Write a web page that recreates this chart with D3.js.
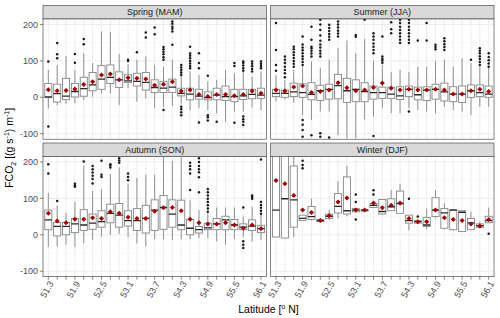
<!DOCTYPE html>
<html>
<head>
<meta charset="utf-8">
<script src="https://cdn.jsdelivr.net/npm/d3@7"></script>
<style>
  body { margin: 0; background: #fff; }
  text { font-family: "Liberation Sans", Arial, sans-serif; }
</style>
</head>
<body>
<svg id="chart" width="500" height="318"></svg>
<script>
const lats = ["51.3","51.5","51.7","51.9","52.1","52.3","52.5","52.7","52.9","53.1","53.3","53.5","53.7",
  "53.9","54.1","54.3","54.5","54.7","54.9","55.1","55.3","55.5","55.7","55.9","56.1"]
const tickLabels = ["51.3","51.9","52.5","53.1","53.7","54.3","54.9","55.5","56.1"]
const yTicks = [-100, 0, 100, 200]
const yMinor = [-50, 50, 150]

// each row: [whisker low, q1, median, q3, whisker high, mean]
const spring = [
  [-31,-1,1,38,75,21],[-22,-13,10,36,89,18],[-18,-6,3,52,114,19],[-16,1,16,38,75,23],[-7,3,24,55,121,35],
  [2,18,34,68,94,43],[11,22,50,87,181,61],[11,38,55,89,179,64],[-21,27,48,70,119,48],[25,41,45,62,91,54],
  [-12,31,44,66,103,52],[-3,20,41,68,112,50],[-30,13,27,48,89,33],[-26,13,25,44,84,36],[-24,13,28,50,103,43],
  [-17,4,11,25,71,17],[-35,-7,9,25,71,20],[-30,-5,3,22,61,8],[-35,-7,-1,15,43,2],[-44,-7,6,25,48,8],
  [-67,-9,2,31,75,8],[-39,-12,2,22,66,4],[-39,-6,4,22,71,8],[-28,-4,8,22,57,17],[-35,-3,6,25,71,11]
]
const springOut = [
  [98,-80],[149,118,107],[],[119,95],[160,146],[],[],[],[],[100,103],[124],[178,164],[192,173],
  [103,110,118,125,132,138,-35],[208,202,194,188,181,144],[61,68,75,82,89,-26,-33,-41,-49],
  [80,86,93,100,107,114,120,139],[121,94,80,-69],[59,-49,-55,-64],[-67],[],[86,94,-70],
  [73,80,87,94,98,-53,-60,-67,-76],[71,78,85,92,98],[80,86,92,98]
]

const summer = [
  [-12,2,11,22,61,20],[-6,0,11,20,48,17],[-14,2,15,39,75,28],[-49,0,13,37,84,31],[-62,-7,8,40,98,13],
  [-39,-9,18,33,80,16],[-39,-5,22,36,103,20],[-104,-4,32,63,135,40],[-113,-14,18,52,156,26],[-113,-12,22,48,121,18],
  [-61,-12,16,40,160,20],[-53,-5,13,31,100,27],[-30,-3,13,28,89,39],[-44,-3,9,28,70,25],[-44,-6,4,29,75,20],
  [-30,2,22,31,70,22],[-35,-7,7,28,84,20],[-39,-9,20,29,84,20],[-44,-5,22,36,100,22],[-26,-10,15,39,103,20],
  [-35,-12,9,29,84,9],[-39,-14,9,31,107,9],[-49,0,18,34,94,18],[-26,2,13,34,85,22],[-26,0,9,31,80,16]
]
const summerOut = [
  [204,130,89,73],[55,66,75,84,94,103,112],[84,92,100,108,116,124,132,139],
  [89,97,105,113,121,129,137,145,167,-62,-75,-90,-108],[112,120,128,135,139,158,194,-104],
  [112,120,128,137,145,155,170,185,200,213,-99,-108],[158,166,174,182,190,199,-110],
  [167,175,183,192,200,208],[],[166,171],[213],[121,130,139,148,158,167,176,-106],[95,101,106,112,167],
  [176,187,206],[149,158,167,176,185,194,204,213],[149,158,167,176,185,194,204,213,-39],[156],[204,156],
  [132,138,144],[130,138,146,154,162],[],[],[103],[89,97,105,113,121,128,135],[84,93,102,111,121]
]

const autumn = [
  [-33,14,41,68,115,59],[-32,-3,23,34,80,38],[-27,0,23,34,60,33],[-33,6,30,45,90,43],[-23,12,27,69,190,43],
  [-14,15,32,57,120,47],[-5,21,36,66,125,45],[0,33,59,84,167,63],[3,21,54,86,185,59],[-6,24,39,66,140,48],
  [-24,12,39,72,156,45],[-32,5,45,81,165,45],[-12,12,68,96,165,65],[-12,15,75,108,215,74],[-15,21,57,96,203,75],
  [-12,14,27,95,212,66],[-12,0,18,42,96,43],[-9,5,14,23,68,33],[-9,14,19,32,59,30],[-18,14,30,45,75,30],
  [-27,14,41,51,75,33],[-12,14,27,42,75,27],[-6,14,21,30,50,18],[-18,12,24,41,77,27],[-14,6,17,26,55,17]
]
const autumnOut = [
  [194,168],[93],[],[132,136,140],[201],[141,153,162,171,180,189],[159,165,203],[185,190,194],[198,204,210],
  [150,159,168],[],[],[],[],[],[],[123,168,180,189,198],[117,158,172,180,189,200,210],
  [63,72,81,90,99,108,117,126],[],[],[],[75,-18,-27,-36],[99,104,108],[58,66,74,82,90,207]
]

const winter = [
  [-6,-6,68,250,300,149],[-9,-9,99,260,300,140],[-6,21,96,189,260,108],[39,39,45,54,54,68],[39,42,50,78,99,61],
  [36,36,39,42,42,39],[41,45,51,57,69,52],[45,60,78,113,147,90],[51,57,66,159,189,101],[63,63,68,72,72,68],
  [65,65,68,69,69,68],[75,75,81,86,86,87],[55,57,64,97,97,74],[66,66,77,99,123,81],[59,59,86,120,140,87],
  [12,32,39,54,54,45],[32,32,36,39,39,36],[15,23,27,48,72,36],[45,50,68,102,123,68],[15,18,60,72,87,47],
  [12,14,68,69,69,42],[9,9,62,66,66,39],[14,14,33,45,63,30],[20,20,25,30,36,24],[33,33,39,51,75,42]
]
const winterOut = [
  [],[],[],[183,192,203],[],[],[],[],[],[111,90,42],[],[122,111],[],[],[],[99],[50],[],[],[],[],[],[],[],[3]
]

const panels = [
  {title: "Spring (MAM)", stats: spring, out: springOut, col: 0, row: 0},
  {title: "Summer (JJA)", stats: summer, out: summerOut, col: 1, row: 0},
  {title: "Autumn (SON)", stats: autumn, out: autumnOut, col: 0, row: 1},
  {title: "Winter (DJF)", stats: winter, out: winterOut, col: 1, row: 1}
]

const svg = d3.select("#chart")
const left = 43, pw = 223.3, gapX = 4.4
const stripH = 13.5, top0 = 5.5, ph = 120.2, gapY = 3.8

const x = d3.scalePoint().domain(lats).range([0, pw]).padding(0.6)
const y = d3.scaleLinear().domain([-115, 215]).range([ph, 0])
const half = x.step() * 0.4

panels.forEach((p, k) => {
  const px = left + p.col * (pw + gapX)
  const sy = top0 + p.row * (stripH + ph + gapY)
  const py = sy + stripH

  // strip
  svg.append("rect").attr("x", px).attr("y", sy).attr("width", pw).attr("height", stripH)
    .attr("fill", "#d9d9d9").attr("stroke", "#333").attr("stroke-width", 0.6)
  svg.append("text").attr("x", px + pw / 2).attr("y", sy + stripH / 2).attr("dy", "0.35em")
    .attr("text-anchor", "middle").attr("font-size", 9).attr("fill", "#1a1a1a").text(p.title)

  const g = svg.append("g").attr("transform", `translate(${px},${py})`)
  g.append("rect").attr("width", pw).attr("height", ph).attr("fill", "#fff")

  // grid
  g.selectAll(".gmin").data(yMinor).join("line")
    .attr("x1", 0).attr("x2", pw).attr("y1", d => y(d)).attr("y2", d => y(d))
    .attr("stroke", "#f0f0f0").attr("stroke-width", 0.5)
  g.selectAll(".gmaj").data(yTicks).join("line")
    .attr("x1", 0).attr("x2", pw).attr("y1", d => y(d)).attr("y2", d => y(d))
    .attr("stroke", "#ebebeb").attr("stroke-width", 0.9)
  g.selectAll(".gx").data(lats).join("line")
    .attr("x1", d => x(d)).attr("x2", d => x(d)).attr("y1", 0).attr("y2", ph)
    .attr("stroke", "#ebebeb").attr("stroke-width", 0.9)

  const clipId = "clip" + k
  svg.append("clipPath").attr("id", clipId).append("rect").attr("width", pw).attr("height", ph)
  const m = g.append("g").attr("clip-path", `url(#${clipId})`)

  const rows = p.stats.map((s, i) => ({lat: lats[i], lo: s[0], q1: s[1], med: s[2], q3: s[3], hi: s[4], mean: s[5], out: p.out[i]}))
  const box = m.selectAll(".box").data(rows).join("g").attr("transform", d => `translate(${x(d.lat)},0)`)

  box.append("line").attr("y1", d => y(d.lo)).attr("y2", d => y(d.q1))
    .attr("stroke", "#858585").attr("stroke-width", 0.9)
  box.append("line").attr("y1", d => y(d.q3)).attr("y2", d => y(d.hi))
    .attr("stroke", "#858585").attr("stroke-width", 0.9)
  box.append("rect").attr("x", -half).attr("width", half * 2)
    .attr("y", d => y(d.q3)).attr("height", d => Math.max(0.5, y(d.q1) - y(d.q3)))
    .attr("fill", "#fff").attr("stroke", "#858585").attr("stroke-width", 0.9)
  box.append("line").attr("x1", -half).attr("x2", half)
    .attr("y1", d => y(d.med)).attr("y2", d => y(d.med))
    .attr("stroke", "#262626").attr("stroke-width", 1.3)
  box.selectAll("circle").data(d => d.out).join("circle")
    .attr("cy", v => y(v)).attr("r", 1.25).attr("fill", "#1a1a1a")
  box.append("path").attr("d", d3.symbol(d3.symbolDiamond2, 16))
    .attr("transform", d => `translate(0,${y(d.mean)})`).attr("fill", "#a00000")

  g.append("rect").attr("width", pw).attr("height", ph).attr("fill", "none")
    .attr("stroke", "#333").attr("stroke-width", 0.6)

  // y axis on left panels
  if (p.col === 0) {
    const ya = g.append("g")
    ya.selectAll("line").data(yTicks).join("line")
      .attr("x1", -3).attr("x2", 0).attr("y1", d => y(d)).attr("y2", d => y(d))
      .attr("stroke", "#333").attr("stroke-width", 0.6)
    ya.selectAll("text").data(yTicks).join("text")
      .attr("x", -5).attr("y", d => y(d)).attr("dy", "0.35em").attr("text-anchor", "end")
      .attr("font-size", 9).attr("fill", "#4d4d4d").text(d => d)
  }

  // x axis on bottom panels
  if (p.row === 1) {
    const xa = g.append("g").attr("transform", `translate(0,${ph})`)
    xa.selectAll("line").data(lats).join("line")
      .attr("x1", d => x(d)).attr("x2", d => x(d)).attr("y1", 0).attr("y2", 3)
      .attr("stroke", "#333").attr("stroke-width", 0.6)
    xa.selectAll("text").data(tickLabels).join("text")
      .attr("transform", d => `translate(${x(d) + 3},${5}) rotate(-60)`)
      .attr("dy", "0.35em").attr("text-anchor", "end")
      .attr("font-size", 9).attr("fill", "#4d4d4d").text(d => d)
  }
})

// axis titles
const xt = svg.append("text").attr("x", left + pw + gapX / 2).attr("y", 313)
  .attr("text-anchor", "middle").attr("font-size", 10.5).attr("fill", "#000")
xt.append("tspan").text("Latitude [")
xt.append("tspan").attr("font-size", 7).attr("dy", -4).text("o")
xt.append("tspan").attr("dy", 4).text(" N]")

const yMid = top0 + (2 * stripH + 2 * ph + gapY) / 2 + stripH / 2
const yt = svg.append("text").attr("transform", `translate(13,${yMid}) rotate(-90)`)
  .attr("text-anchor", "middle").attr("font-size", 10.5).attr("fill", "#000")
yt.append("tspan").text("FCO")
yt.append("tspan").attr("font-size", 7).attr("dy", 3).text("2")
yt.append("tspan").attr("dy", -3).text(" [(g s")
yt.append("tspan").attr("font-size", 7).attr("dy", -4).text("-1")
yt.append("tspan").attr("dy", 4).text(") m")
yt.append("tspan").attr("font-size", 7).attr("dy", -4).text("-1")
yt.append("tspan").attr("dy", 4).text("]")
</script>
</body>
</html>
